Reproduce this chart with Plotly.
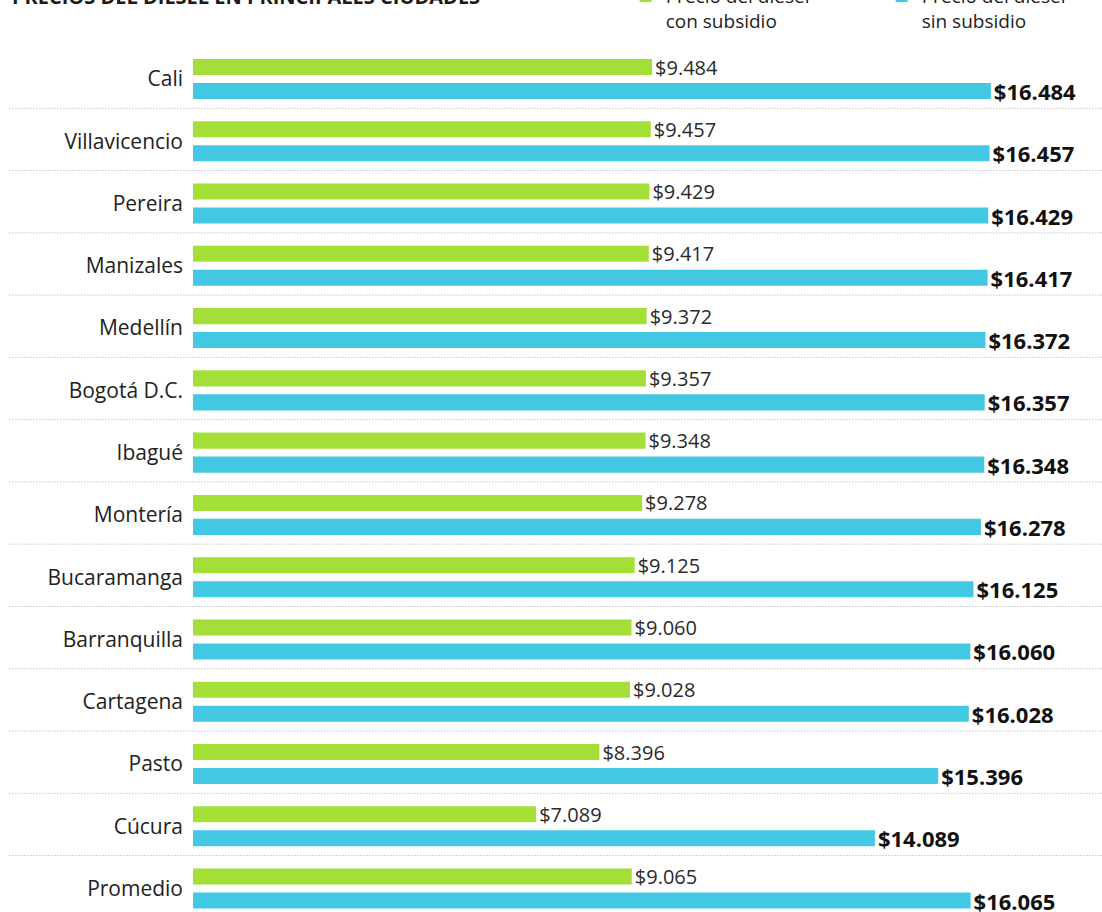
import plotly.graph_objects as go

ciudades = ["Cali", "Villavicencio", "Pereira", "Manizales", "Medellín", "Bogotá D.C.",
            "Ibagué", "Montería", "Bucaramanga", "Barranquilla", "Cartagena", "Pasto",
            "Cúcura", "Promedio"]
con_subsidio = [9484, 9457, 9429, 9417, 9372, 9357, 9348, 9278, 9125, 9060, 9028, 8396, 7089, 9065]
sin_subsidio = [16484, 16457, 16429, 16417, 16372, 16357, 16348, 16278, 16125, 16060, 16028, 15396, 14089, 16065]

GREEN = "#a4df38"
BLUE = "#43c8e4"
FONT = "Open Sans"

fig = go.Figure()
fig.add_trace(go.Bar(
    y=ciudades, x=con_subsidio, orientation="h", name="Precio del diésel<br>con subsidio",
    marker=dict(color=GREEN, line=dict(width=0)),
    texttemplate="$%{x:,}", textposition="outside", cliponaxis=False, constraintext="none",
    textfont=dict(family=FONT, size=20, color="#2a2a2a"),
))
fig.add_trace(go.Bar(
    y=ciudades, x=sin_subsidio, orientation="h", name="Precio del diésel<br>sin subsidio",
    marker=dict(color=BLUE, line=dict(width=0)),
    texttemplate="<b>$%{x:,}</b>", textposition="outside", cliponaxis=False, constraintext="none",
    textfont=dict(family=FONT, size=22, color="#111111"),
))

shapes = []
for i in range(len(ciudades) - 1):
    shapes.append(dict(type="line", xref="paper", yref="y", x0=-0.202, x1=1.0,
                       y0=i + 0.47, y1=i + 0.47,
                       line=dict(color="#a8a8a8", width=1, dash="1px,2px")))

fig.update_layout(
    width=1102, height=912,
    margin=dict(l=193, r=0, t=0, b=0, autoexpand=False),
    paper_bgcolor="white", plot_bgcolor="white",
    separators=",.",
    barmode="group", bargap=0.23, bargroupgap=0.33,
    font=dict(family=FONT, size=19, color="#222222"),
    xaxis=dict(range=[0, 18780], showgrid=False, zeroline=False, showticklabels=False,
               showline=False, fixedrange=True),
    yaxis=dict(range=[13.377, -1.269], showgrid=False, zeroline=False, showline=False,
               ticks="", ticklabelstandoff=9,
               tickfont=dict(family=FONT, size=21, color="#222222")),
    shapes=shapes,
    showlegend=True,
    legend=dict(orientation="h", x=0.476, xanchor="left", y=1.025, yanchor="top",
                valign="top", entrywidth=211, traceorder="normal",
                font=dict(family=FONT, size=19, color="#222222"),
                bgcolor="rgba(0,0,0,0)"),
    annotations=[dict(text="<b>PRECIOS DEL DIÉSEL EN PRINCIPALES CIUDADES</b>",
                      xref="paper", yref="paper", x=-0.2013, xanchor="left",
                      y=1 - 12 / 912, yanchor="bottom", showarrow=False,
                      font=dict(family=FONT, size=20, color="#1a1a1a"))],
)

fig.write_html("out.html", config={"displayModeBar": False},
               post_script="document.body.style.margin='0px';")
